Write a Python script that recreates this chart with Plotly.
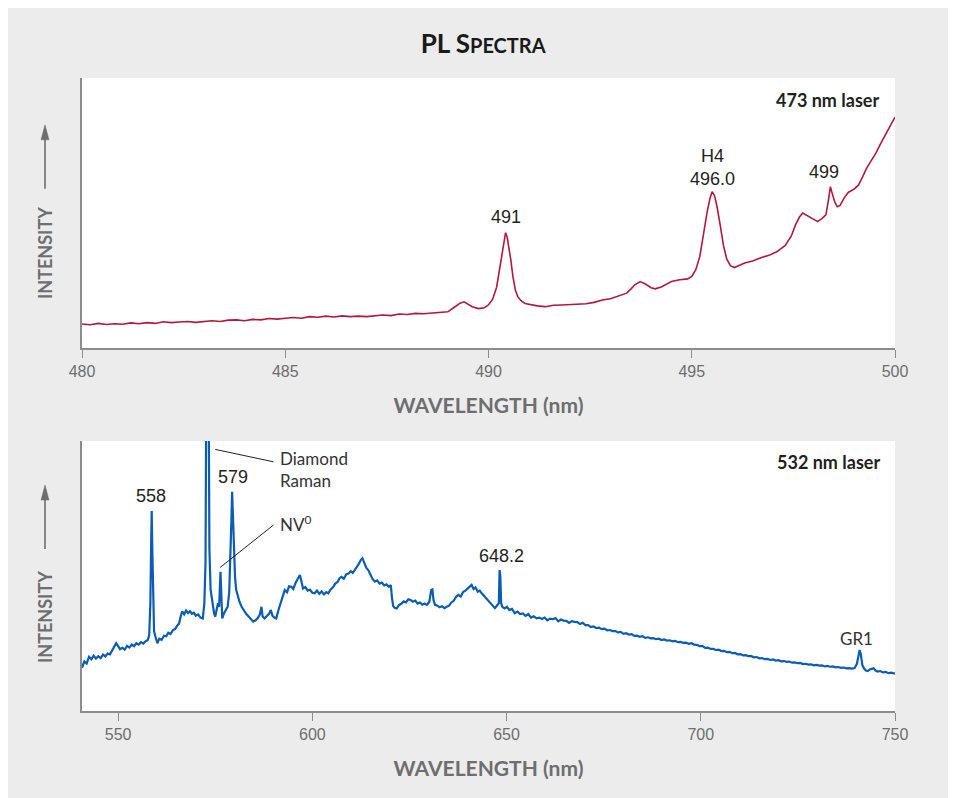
import plotly.graph_objects as go
from plotly.subplots import make_subplots

# 473 nm laser spectrum (arbitrary intensity units)
top_wavelength = [
    480.0, 480.2, 480.4, 480.6, 480.8, 481.0, 481.2, 481.4, 481.6, 481.8,
    482.0, 482.2, 482.4, 482.6, 482.8, 483.0, 483.2, 483.4, 483.6, 483.8,
    484.0, 484.2, 484.4, 484.6, 484.8, 485.0, 485.2, 485.4, 485.6, 485.8,
    486.0, 486.2, 486.4, 486.6, 486.8, 487.0, 487.2, 487.4, 487.6, 487.8,
    488.0, 488.2, 488.4, 488.6, 488.8, 489.0, 489.15, 489.3, 489.4, 489.5,
    489.6, 489.75, 489.9, 490.0, 490.1, 490.2, 490.27, 490.33, 490.38, 490.42,
    490.46, 490.5, 490.55, 490.6, 490.66, 490.72, 490.8, 490.9, 491.0, 491.2,
    491.4, 491.6, 491.8, 492.0, 492.2, 492.4, 492.6, 492.8, 493.0, 493.2,
    493.4, 493.5, 493.6, 493.73, 493.85, 494.0, 494.1, 494.25, 494.4, 494.5,
    494.7, 494.9, 495.0, 495.1, 495.2, 495.3, 495.38, 495.45, 495.5, 495.56,
    495.62, 495.7, 495.78, 495.86, 495.95, 496.05, 496.15, 496.3, 496.5, 496.7,
    496.9, 497.1, 497.3, 497.45, 497.55, 497.65, 497.73, 497.82, 497.92, 498.0,
    498.1, 498.2, 498.3, 498.36, 498.41, 498.46, 498.52, 498.58, 498.65, 498.75,
    498.85, 499.0, 499.1, 499.2, 499.3, 499.4, 499.53, 499.65, 499.79, 499.9,
    500.0,
]
top_intensity = [
    8.9, 8.6, 9.1, 8.7, 9.0, 8.8, 9.3, 9.0, 9.4, 9.1,
    9.7, 9.4, 9.6, 9.8, 9.5, 9.9, 10.1, 9.8, 10.3, 10.4,
    10.1, 10.6, 10.4, 10.9, 10.7, 11.0, 11.3, 11.0, 11.6, 11.4,
    11.8, 11.5, 11.9, 11.6, 11.8, 11.6, 12.0, 12.2, 12.0, 12.6,
    12.4, 12.8, 12.7, 13.0, 13.2, 13.4, 15.0, 16.6, 17.1, 16.2,
    15.3, 14.6, 14.9, 16.0, 18.0, 22.5, 29.0, 36.0, 40.5, 42.7,
    41.0, 37.5, 32.5, 26.5, 21.5, 19.0, 17.5, 16.5, 16.2, 15.6,
    15.3, 15.8, 15.9, 16.0, 16.1, 16.4, 16.9, 17.8, 18.2, 19.3,
    20.3, 21.8, 23.4, 24.6, 23.8, 22.3, 21.9, 22.6, 23.9, 24.6,
    25.3, 25.6, 26.5, 29.0, 34.0, 43.5, 50.5, 55.5, 57.9, 56.5,
    52.5, 45.5, 38.0, 33.0, 30.5, 29.8, 30.4, 31.5, 32.2, 33.4,
    34.3, 35.7, 38.0, 41.5, 45.5, 48.5, 50.0, 49.2, 48.1, 47.4,
    46.8, 47.9, 49.3, 54.5, 59.7, 57.0, 54.0, 52.3, 52.8, 55.6,
    57.6, 58.9, 60.3, 63.3, 66.5, 69.0, 72.2, 75.8, 79.6, 82.6,
    85.5,
]

# 532 nm laser spectrum
bottom_wavelength = [
    540.7, 541.3, 541.9, 542.5, 543.1, 543.7, 544.3, 544.9, 545.5, 546.1,
    546.7, 547.3, 547.9, 548.5, 549.0, 549.5, 550.0, 550.5, 551.1, 551.7,
    552.3, 552.9, 553.5, 554.1, 554.7, 555.3, 555.9, 556.5, 557.1, 557.6,
    558.0, 558.3, 558.5, 558.65, 558.8, 559.0, 559.25, 559.6, 560.1, 560.6,
    561.2, 561.8, 562.4, 562.9, 563.5, 564.1, 564.7, 565.2, 565.7, 566.1,
    566.5, 567.0, 567.5, 568.0, 568.5, 569.0, 569.5, 570.0, 570.6, 571.2,
    571.8, 572.2, 572.5, 572.7, 572.9, 573.1, 573.3, 573.5, 573.8, 574.1,
    574.4, 574.7, 575.0, 575.3, 575.7, 576.0, 576.2, 576.35, 576.55, 576.8,
    577.2, 577.7, 578.2, 578.6, 578.9, 579.15, 579.35, 579.55, 579.8, 580.1,
    580.4, 580.8, 581.3, 581.8, 582.4, 583.0, 583.6, 584.2, 584.8, 585.4,
    586.0, 586.5, 586.9, 587.2, 587.7, 588.3, 588.9, 589.3, 589.7, 590.2,
    590.7, 591.3, 591.9, 592.5, 592.9, 593.5, 594.0, 594.6, 595.1, 595.7,
    596.2, 596.8, 597.2, 597.6, 598.2, 598.8, 599.4, 600.0, 600.6, 601.2,
    601.8, 602.4, 603.0, 603.6, 604.1, 604.7, 605.3, 605.9, 606.5, 607.0,
    607.5, 608.1, 608.7, 609.3, 609.9, 610.4, 610.9, 611.5, 612.0, 612.5,
    612.9, 613.4, 613.9, 614.4, 614.9, 615.5, 616.1, 616.7, 617.3, 617.9,
    618.5, 619.1, 619.7, 620.2, 620.5, 620.8, 621.2, 621.7, 622.3, 622.9,
    623.5, 624.1, 624.7, 625.3, 625.9, 626.5, 627.1, 627.7, 628.3, 628.9,
    629.5, 630.1, 630.6, 630.9, 631.2, 631.6, 632.2, 632.8, 633.4, 634.0,
    634.6, 635.2, 635.8, 636.4, 637.0, 637.6, 638.2, 638.8, 639.4, 640.0,
    640.5, 641.0, 641.5, 642.0, 642.6, 643.1, 643.6, 644.2, 644.8, 645.4,
    646.0, 646.6, 647.0, 647.5, 648.0, 648.2, 648.4, 648.6, 648.9, 649.5,
    650.1, 650.7, 651.4, 652.1, 652.8, 653.5, 654.2, 654.9, 655.6, 656.3,
    657.0, 657.7, 658.4, 659.1, 659.8, 660.5, 661.2, 661.9, 662.6, 663.3,
    664.0, 664.7, 665.4, 666.1, 666.8, 667.5, 668.2, 668.9, 669.6, 670.3,
    671.0, 671.7, 672.4, 673.1, 673.8, 674.5, 675.2, 675.9, 676.6, 677.3,
    678.0, 678.7, 679.4, 680.1, 680.8, 681.5, 682.2, 682.9, 683.6, 684.3,
    685.0, 685.7, 686.4, 687.1, 687.8, 688.5, 689.2, 689.9, 690.6, 691.3,
    692.0, 692.7, 693.4, 694.1, 694.8, 695.5, 696.2, 696.9, 697.6, 698.3,
    699.0, 699.7, 700.4, 701.1, 701.8, 702.5, 703.2, 703.9, 704.6, 705.3,
    706.0, 706.7, 707.4, 708.1, 708.8, 709.5, 710.2, 710.9, 711.6, 712.3,
    713.0, 713.7, 714.4, 715.1, 715.8, 716.5, 717.2, 717.9, 718.6, 719.3,
    720.0, 720.7, 721.4, 722.1, 722.8, 723.5, 724.2, 724.9, 725.6, 726.3,
    727.0, 727.7, 728.4, 729.1, 729.8, 730.5, 731.2, 731.9, 732.6, 733.3,
    734.0, 734.7, 735.4, 736.1, 736.8, 737.5, 738.2, 738.9, 739.6, 740.2,
    740.6, 740.9, 741.2, 741.6, 742.0, 742.5, 743.0, 743.5, 744.0, 744.5,
    745.0, 745.5, 746.2, 746.9, 747.6, 748.3, 749.0, 749.7, 750.0,
]
bottom_intensity = [
    16.0, 18.4, 17.6, 20.1, 19.2, 20.5, 19.4, 20.3, 19.6, 20.9,
    20.2, 21.3, 21.0, 22.4, 23.8, 25.1, 24.0, 22.9, 23.4, 22.7,
    24.1, 23.5, 24.6, 24.0, 25.1, 24.6, 25.5, 25.0, 25.9, 26.2,
    28.0, 40.0, 62.0, 74.1, 60.0, 40.0, 29.5, 27.6, 25.1, 26.8,
    26.4, 27.9, 27.7, 29.0, 28.5, 29.9, 30.4, 31.6, 32.4, 35.0,
    36.9, 35.8, 37.2, 36.3, 37.0, 36.0, 36.4, 35.3, 35.8, 34.6,
    34.3, 40.0, 55.0, 120.0, 200.0, 200.0, 120.0, 60.0, 45.0, 41.5,
    39.9, 36.2, 34.9, 37.0, 39.9, 38.6, 44.0, 51.6, 44.0, 34.3,
    36.0, 37.4, 38.6, 44.0, 55.0, 70.0, 81.2, 72.0, 58.0, 49.5,
    44.8, 42.2, 40.2, 38.6, 37.2, 35.9, 35.0, 34.0, 33.1, 33.6,
    34.5, 35.8, 38.6, 35.0, 34.3, 35.2, 36.1, 37.4, 35.4, 34.6,
    34.3, 37.5, 40.6, 43.5, 44.8, 44.0, 46.2, 46.0, 45.2, 47.5,
    48.9, 50.4, 48.0, 45.4, 45.9, 44.6, 44.9, 43.8, 43.6, 44.6,
    43.4, 44.3, 43.2, 44.0, 43.6, 45.0, 45.8, 47.2, 47.8, 49.2,
    49.7, 49.0, 50.6, 50.9, 51.8, 51.2, 52.2, 53.4, 54.6, 56.0,
    56.6, 54.8, 53.0, 52.2, 50.4, 48.9, 47.9, 48.4, 47.2, 47.6,
    46.5, 46.9, 46.0, 46.6, 42.0, 38.9, 38.2, 38.0, 39.2, 39.7,
    40.6, 40.2, 41.4, 41.1, 40.5, 40.9, 39.8, 40.2, 39.4, 39.8,
    39.3, 40.4, 44.8, 45.0, 41.0, 39.3, 39.0, 38.4, 38.8, 38.1,
    38.6, 39.0, 40.2, 40.8, 42.3, 43.0, 42.4, 44.1, 44.6, 45.3,
    46.0, 46.7, 45.2, 45.8, 44.2, 44.6, 43.6, 42.6, 41.8, 41.0,
    39.8, 38.6, 38.1, 39.0, 39.9, 52.2, 50.0, 40.0, 38.6, 38.0,
    38.6, 37.4, 37.8, 36.2, 36.8, 35.9, 36.1, 35.2, 35.9, 34.6,
    35.1, 34.3, 34.6, 34.1, 34.6, 33.6, 34.2, 34.0, 34.4, 33.2,
    33.9, 33.5, 33.4, 32.6, 33.3, 33.0, 32.9, 32.2, 32.7, 31.8,
    31.8, 31.1, 31.3, 30.7, 30.9, 30.3, 30.5, 29.9, 30.0, 29.6,
    29.6, 29.1, 29.3, 28.6, 28.8, 28.3, 28.5, 27.8, 27.9, 27.5,
    27.7, 27.1, 27.3, 26.9, 27.0, 26.6, 26.8, 26.3, 26.5, 26.1,
    26.2, 25.8, 26.0, 25.5, 25.6, 25.2, 25.3, 24.9, 25.1, 24.6,
    24.5, 24.0, 24.1, 23.4, 23.5, 23.0, 23.0, 22.6, 22.7, 22.2,
    22.3, 21.8, 21.9, 21.4, 21.5, 21.0, 21.1, 20.6, 20.7, 20.3,
    20.3, 19.9, 20.0, 19.5, 19.6, 19.2, 19.3, 18.9, 19.1, 18.7,
    18.8, 18.4, 18.5, 18.2, 18.3, 17.9, 18.0, 17.7, 17.8, 17.4,
    17.5, 17.2, 17.3, 16.9, 17.1, 16.8, 16.9, 16.5, 16.7, 16.4,
    16.5, 16.2, 16.3, 16.0, 16.1, 15.8, 15.9, 15.7, 15.9, 17.5,
    21.0, 22.6, 21.0, 17.0, 15.8, 15.0, 14.8, 15.4, 15.6, 15.8,
    15.0, 14.6, 14.8, 14.3, 14.5, 14.0, 14.2, 13.8, 13.8,
]

# peak labels
top_labels = ["491", "H4<br>496.0", "499"]
top_label_x = [490.42, 495.5, 498.25]
top_label_y = [48.5, 67.0, 65.0]

bottom_labels = ["558", "579", "648.2"]
bottom_label_x = [558.5, 579.6, 648.6]
bottom_label_y = [79.5, 86.5, 57.5]

GREY = "#6d6e70"
AXIS = "#8c8c8c"
DARK = "#231f20"

fig = make_subplots(rows=2, cols=1)

fig.add_trace(go.Scatter(x=top_wavelength, y=top_intensity, mode="lines",
                         line=dict(color="#b3173f", width=1.6), showlegend=False),
              row=1, col=1)
fig.add_trace(go.Scatter(x=bottom_wavelength, y=bottom_intensity, mode="lines",
                         line=dict(color="#0b5cb5", width=2.2), showlegend=False),
              row=2, col=1)

xaxis_style = dict(
    showline=True, linecolor=AXIS, linewidth=1.5,
    ticks="outside", ticklen=8, tickcolor=AXIS, tickwidth=1,
    tickfont=dict(family="Liberation Sans", size=16, color=GREY),
    showgrid=False, zeroline=False,
    title=dict(text="WAVELENGTH (nm)", standoff=19,
               font=dict(family="Lato", size=21, color=GREY, weight="bold")),
)
yaxis_style = dict(showline=True, linecolor=AXIS, linewidth=1.5, showticklabels=False,
                   ticks="", showgrid=False, zeroline=False, range=[0, 100])

fig.update_xaxes(range=[480, 500], tickvals=[480, 485, 490, 495, 500], row=1, col=1, **xaxis_style)
fig.update_xaxes(range=[540.7, 750], tickvals=[550, 600, 650, 700, 750], row=2, col=1, **xaxis_style)
fig.update_yaxes(domain=[0.5735, 1.0], row=1, col=1, **yaxis_style)
fig.update_yaxes(domain=[0.0, 0.4265], row=2, col=1, **yaxis_style)

annotations = []
for t, x, y in zip(top_labels, top_label_x, top_label_y):
    annotations.append(dict(text=t, x=x, y=y, xref="x", yref="y", showarrow=False,
                            font=dict(family="Liberation Sans", size=18, color=DARK)))
for t, x, y in zip(bottom_labels, bottom_label_x, bottom_label_y):
    annotations.append(dict(text=t, x=x, y=y, xref="x2", yref="y2", showarrow=False,
                            font=dict(family="Liberation Sans", size=18, color=DARK)))

annotations += [
    dict(text="<b>473 nm laser</b>", x=499.66, y=91.9, xref="x", yref="y", xanchor="right",
         showarrow=False, font=dict(family="Lato", size=18, color=DARK)),
    dict(text="<b>532 nm laser</b>", x=746.6, y=92.2, xref="x2", yref="y2", xanchor="right",
         showarrow=False, font=dict(family="Lato", size=18, color=DARK)),
    dict(text="Diamond<br>Raman", x=591.2, y=89.3, xref="x2", yref="y2", xanchor="left",
         align="left", showarrow=False, font=dict(family="Lato", size=17, color="#333333")),
    dict(text="NV<sup>0</sup>", x=591.2, y=69.5, xref="x2", yref="y2", xanchor="left",
         showarrow=False, font=dict(family="Lato", size=17, color="#333333")),
    dict(text="GR1", x=740.2, y=27.0, xref="x2", yref="y2",
         showarrow=False, font=dict(family="Lato", size=17, color="#333333")),
]

shapes = [
    # leader lines
    dict(type="line", x0=575.0, y0=96.9, x1=590.0, y1=92.3, xref="x2", yref="y2",
         line=dict(color="#222222", width=1)),
    dict(type="line", x0=576.3, y0=53.2, x1=590.0, y1=68.9, xref="x2", yref="y2",
         line=dict(color="#222222", width=1)),
]

# y axis titles with upward arrows
for text_y, tip_y in [(0.7235, 0.926), (0.1485, 0.357)]:
    annotations.append(dict(text="<b>INTENSITY</b>", x=0, y=text_y, xref="paper", yref="paper",
                            xanchor="center", yanchor="middle", xshift=-37, textangle=-90,
                            showarrow=False, font=dict(family="Lato", size=18, color=GREY)))
    shapes.append(dict(type="line", xref="paper", yref="paper", xsizemode="pixel", ysizemode="pixel",
                       xanchor=0, yanchor=tip_y, x0=-37, x1=-37, y0=-64, y1=-10,
                       line=dict(color=GREY, width=1.6)))
    shapes.append(dict(type="path", xref="paper", yref="paper", xsizemode="pixel", ysizemode="pixel",
                       xanchor=0, yanchor=tip_y, path="M-41,-15 L-33,-15 L-37,0 Z",
                       fillcolor=GREY, line=dict(color=GREY, width=0.5)))

fig.update_layout(
    width=956, height=798,
    margin=dict(l=74, r=69, t=70, b=95),
    paper_bgcolor="#ececec",
    plot_bgcolor="white",
    title=dict(text="<b>PL S<span style='font-size:20px'>PECTRA</span></b>",
               x=0.497, xanchor="center", y=0.955, yanchor="middle",
               font=dict(family="Lato", size=26, color="#1a1a1a")),
    annotations=annotations,
    shapes=shapes,
)

fig.write_html("out.html")
